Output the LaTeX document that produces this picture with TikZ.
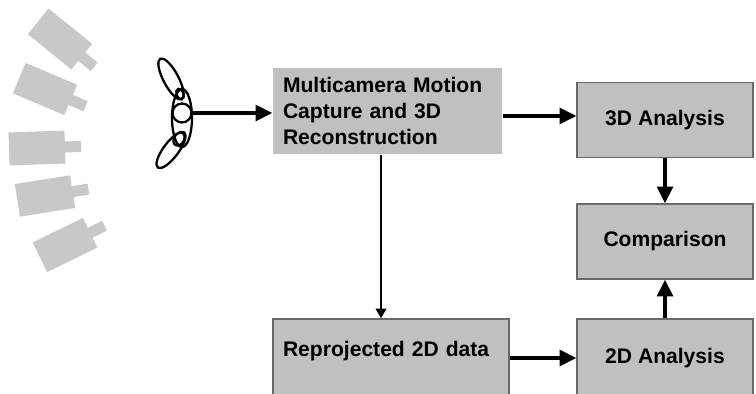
\documentclass[tikz,border=0pt]{standalone}
\usepackage{fontspec}
\setmainfont{Liberation Sans}
\usetikzlibrary{arrows.meta}

\definecolor{boxgray}{RGB}{192,192,192}
\definecolor{edgegray}{RGB}{105,105,105}
\definecolor{camgray}{RGB}{200,200,200}

\begin{document}
\begin{tikzpicture}[x=0.02cm, y=-0.02cm,
    block/.style={fill=boxgray, draw=edgegray, line width=0.8pt, inner sep=0pt,
        minimum width=3.52cm, minimum height=1.5cm,
        font=\fontsize{12}{14.6}\selectfont\bfseries},
    arr/.style={line width=1.8pt, -{Triangle[length=9.5pt,width=9pt]}},
    thinarr/.style={line width=1.2pt, -{Triangle[length=5.5pt,width=6pt]}},
    limb/.style={line width=1.3pt}]

	\path[clip, use as bounding box] (0,0) rectangle (756,394);

	% ring of cameras
	\foreach \cx/\cy/\ang in {60/39/-39, 45/89/-23, 37/148/2, 45/196/9, 65/245/26}{
	    \begin{scope}[shift={(\cx,\cy)}, rotate=\ang]
	        \fill[camgray] (-28,-16.5) rectangle (28,16.5);
	        \fill[camgray] (27,-5.5) rectangle (44,5.5);
	    \end{scope}
	}

	% the subject
	\draw[limb] (182,118) ellipse [x radius=10, y radius=29];
	\draw[limb, rotate around={28:(171,79)}] (171,79) ellipse [x radius=7.5, y radius=23];
	\draw[limb, rotate around={-37:(171,150)}] (171,150) ellipse [x radius=7.5, y radius=22];
	\draw[limb, rotate around={20:(180,94)}] (180,94) ellipse [x radius=3.5, y radius=5.5];
	\draw[limb, rotate around={-30:(179,139)}] (179,139) ellipse [x radius=5, y radius=7];
	\node[draw, circle, limb, fill=white, minimum size=0.38cm, inner sep=0pt] (head) at (182,113) {};

	% processing blocks
	\node[block, draw=none, minimum width=4.58cm, minimum height=1.72cm,
	      inner xsep=0.2cm, text width=4.18cm, align=left] (mc) at (387.5,111)
	    {Multicamera Motion\\Capture and 3D\\Reconstruction};
	\node[block] (ana3) at (665,120) {3D Analysis};
	\node[block] (comp) at (665,241.5) {Comparison};
	\node[block, minimum height=1.56cm] (ana2) at (665,358) {2D Analysis};
	\node[block, minimum width=4.72cm, minimum height=1.56cm, inner xsep=0.2cm,
	      text width=4.32cm, align=left, text depth=10.5pt] (rp) at (391,358)
	    {Reprojected 2D data};

	% data flow
	\draw[arr] (head.east) -- (mc.west |- head.east);
	\coordinate (a3in) at ([yshift=2.3pt]ana3.west);
	\draw[arr] (mc.east |- a3in) -- (a3in);
	\coordinate (split) at ([xshift=-3.7pt]mc.south);
	\draw[thinarr] (split) -- (split |- rp.north);
	\draw[arr] (ana3) -- (comp);
	\draw[arr] (ana2) -- (comp);
	\draw[arr] (rp) -- (ana2);

\end{tikzpicture}
\end{document}
